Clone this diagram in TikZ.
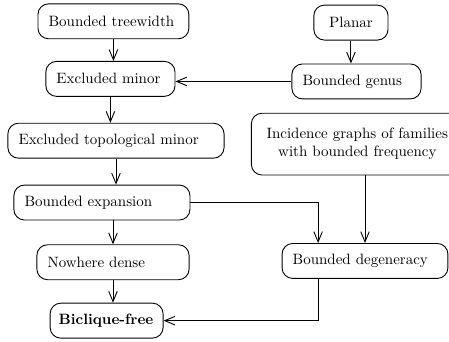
\documentclass[tikz,border=0pt]{standalone}
\usepackage{tikz}
\usetikzlibrary{arrows.meta, positioning, calc}

\begin{document}
\begin{tikzpicture}[
    cls/.style={rectangle, draw, semithick, rounded corners=2.5mm, minimum height=0.82cm, inner xsep=0.25cm, align=left},
    imp/.style={-{Straight Barb[length=2.4mm, width=2mm]}, semithick}
]
\useasboundingbox (0,0) rectangle (10.53,-8.0);

% left column
\node[cls, text width=3.04cm] (tw) at (2.66,-0.50) {Bounded treewidth};
\node[cls, text width=2.53cm] (em) at (2.59,-1.85) {Excluded minor};
\node[cls, text width=4.57cm] (etm) at (2.72,-3.30) {Excluded topological minor};
\node[cls, text width=3.63cm] (be) at (2.39,-4.75) {Bounded expansion};
\node[cls, text width=3.07cm] (nd) at (2.65,-6.15) {Nowhere dense};
\node[cls, text width=2.25cm, inner xsep=0.2cm] (bf) at (2.50,-7.52) {\mbox{\textbf{Biclique-free}}};

% right column
\node[cls, text width=1.24cm, align=center] (pl) at (8.23,-0.53) {Planar};
\node[cls, text width=2.53cm] (bg) at (8.36,-1.91) {Bounded genus};
\node[cls, text width=4.47cm, align=center, minimum height=1.45cm] (ig) at (8.38,-3.38) {Incidence graphs of families\\with bounded frequency};
\node[cls, text width=3.39cm] (bd) at (8.56,-6.12) {Bounded degeneracy};

\draw[imp] (tw.south) -- (tw.south |- em.north);
\draw[imp] (em.south) -- (em.south |- etm.north);
\draw[imp] (etm.south) -- (etm.south |- be.north);
\draw[imp] (nd.north |- be.south) -- (nd.north);
\draw[imp] (nd.south) -- (nd.south |- bf.north);
\draw[imp] (pl.south) -- (pl.south |- bg.north);
\draw[imp] (bg.west) -- (em.east |- bg.west);
\draw[imp] (be.east) -| ([xshift=-1.1cm]bd.north);
\draw[imp] (bd.north |- ig.south) -- (bd.north);
\draw[imp] ([xshift=-1.1cm]bd.south) |- (bf.east);
\end{tikzpicture}
\end{document}
